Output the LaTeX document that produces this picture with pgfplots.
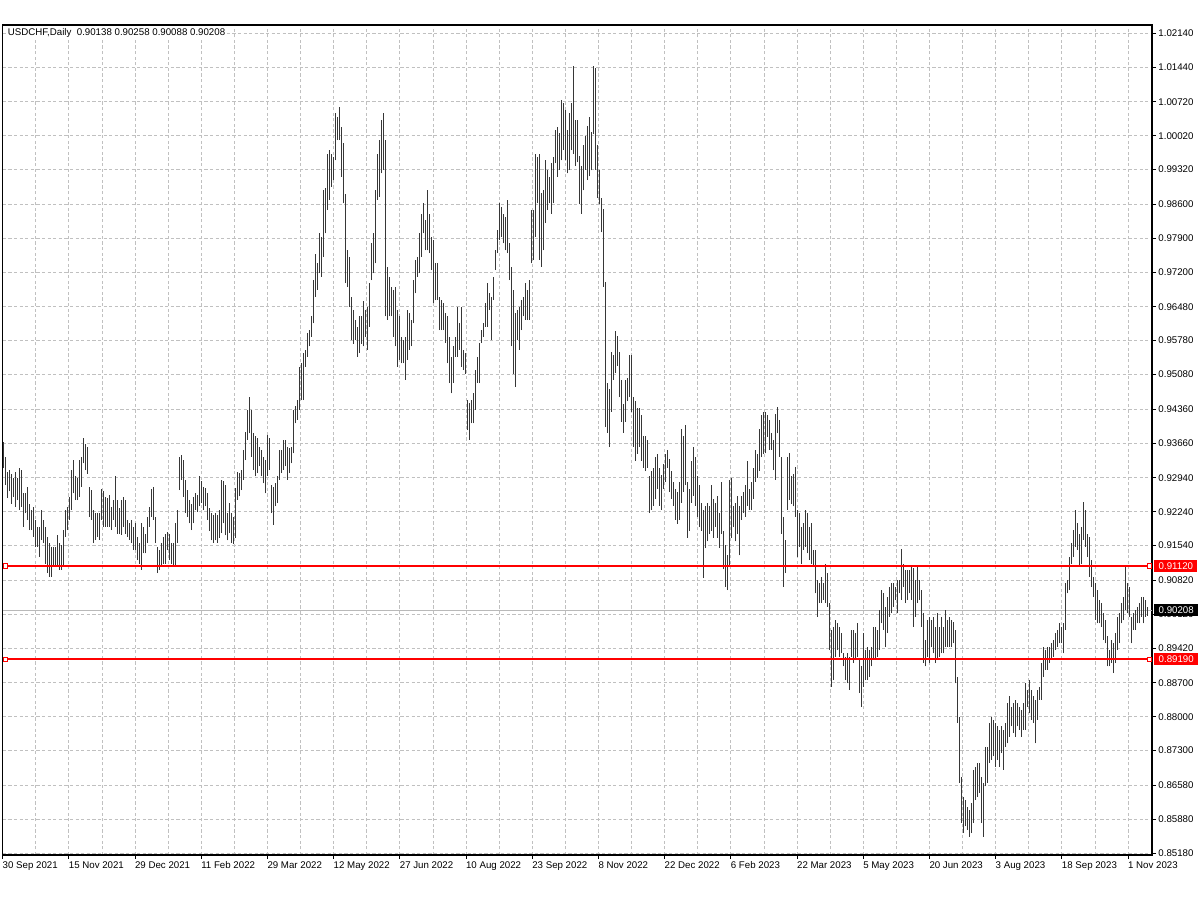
\documentclass[border=0pt]{standalone}
\usepackage{fontspec}
\setmainfont{Liberation Sans}
\usepackage{pgfplots}
\usepackage{pgfplotstable}
\pgfplotsset{compat=1.18}
\definecolor{gridc}{RGB}{192,192,192}
\definecolor{curc}{RGB}{185,185,185}
\definecolor{barc}{RGB}{55,55,55}
\definecolor{mtred}{RGB}{255,0,0}
\newcommand\mt{\fontsize{4.85bp}{5.8bp}\selectfont}
\pgfplotstableread{
i h l
0 0.9369 0.9314
1 0.9338 0.9279
2 0.9307 0.9252
3 0.9310 0.9266
4 0.9303 0.9241
5 0.9293 0.9255
6 0.9307 0.9234
7 0.9293 0.9248
8 0.9314 0.9228
9 0.9310 0.9234
10 0.9262 0.9193
11 0.9262 0.9221
12 0.9276 0.9207
13 0.9241 0.9186
14 0.9228 0.9186
15 0.9234 0.9172
16 0.9207 0.9152
17 0.9193 0.9152
18 0.9193 0.9131
19 0.9228 0.9166
20 0.9207 0.9159
21 0.9193 0.9117
22 0.9172 0.9097
23 0.9159 0.9090
24 0.9152 0.9090
25 0.9152 0.9110
26 0.9152 0.9110
27 0.9176 0.9110
28 0.9159 0.9104
29 0.9155 0.9104
30 0.9186 0.9110
31 0.9228 0.9172
32 0.9234 0.9186
33 0.9255 0.9207
34 0.9310 0.9228
35 0.9331 0.9262
36 0.9297 0.9248
37 0.9293 0.9248
38 0.9331 0.9255
39 0.9338 0.9276
40 0.9376 0.9324
41 0.9365 0.9310
42 0.9359 0.9303
43 0.9276 0.9214
44 0.9269 0.9207
45 0.9228 0.9159
46 0.9221 0.9166
47 0.9221 0.9172
48 0.9221 0.9166
49 0.9272 0.9207
50 0.9266 0.9193
51 0.9255 0.9193
52 0.9252 0.9193
53 0.9259 0.9193
54 0.9234 0.9186
55 0.9248 0.9207
56 0.9297 0.9193
57 0.9248 0.9179
58 0.9231 0.9179
59 0.9248 0.9176
60 0.9255 0.9193
61 0.9248 0.9179
62 0.9207 0.9172
63 0.9200 0.9166
64 0.9207 0.9159
65 0.9193 0.9145
66 0.9200 0.9145
67 0.9172 0.9124
68 0.9159 0.9117
69 0.9200 0.9104
70 0.9193 0.9138
71 0.9179 0.9138
72 0.9214 0.9159
73 0.9234 0.9193
74 0.9272 0.9214
75 0.9276 0.9207
76 0.9214 0.9159
77 0.9152 0.9097
78 0.9145 0.9104
79 0.9159 0.9110
80 0.9172 0.9117
81 0.9179 0.9117
82 0.9183 0.9145
83 0.9179 0.9124
84 0.9159 0.9117
85 0.9159 0.9110
86 0.9200 0.9110
87 0.9228 0.9159
88 0.9338 0.9269
89 0.9341 0.9290
90 0.9331 0.9255
91 0.9290 0.9221
92 0.9269 0.9214
93 0.9248 0.9200
94 0.9241 0.9186
95 0.9255 0.9200
96 0.9262 0.9228
97 0.9259 0.9224
98 0.9297 0.9235
99 0.9287 0.9242
100 0.9276 0.9228
101 0.9273 0.9235
102 0.9262 0.9207
103 0.9231 0.9185
104 0.9221 0.9165
105 0.9218 0.9160
106 0.9221 0.9165
107 0.9218 0.9160
108 0.9228 0.9170
109 0.9290 0.9180
110 0.9287 0.9200
111 0.9280 0.9175
112 0.9221 0.9165
113 0.9242 0.9180
114 0.9221 0.9160
115 0.9214 0.9158
116 0.9273 0.9170
117 0.9307 0.9249
118 0.9304 0.9256
119 0.9311 0.9269
120 0.9352 0.9290
121 0.9390 0.9331
122 0.9435 0.9373
123 0.9462 0.9386
124 0.9435 0.9338
125 0.9386 0.9311
126 0.9380 0.9297
127 0.9376 0.9304
128 0.9359 0.9318
129 0.9352 0.9297
130 0.9338 0.9283
131 0.9331 0.9262
132 0.9383 0.9297
133 0.9376 0.9311
134 0.9280 0.9221
135 0.9276 0.9197
136 0.9283 0.9235
137 0.9297 0.9242
138 0.9352 0.9290
139 0.9352 0.9304
140 0.9373 0.9311
141 0.9373 0.9318
142 0.9359 0.9290
143 0.9355 0.9304
144 0.9359 0.9324
145 0.9435 0.9345
146 0.9442 0.9407
147 0.9455 0.9414
148 0.9524 0.9435
149 0.9531 0.9455
150 0.9552 0.9455
151 0.9559 0.9524
152 0.9593 0.9545
153 0.9600 0.9566
154 0.9628 0.9586
155 0.9703 0.9614
156 0.9758 0.9669
157 0.9738 0.9683
158 0.9800 0.9717
159 0.9793 0.9710
160 0.9889 0.9752
161 0.9893 0.9800
162 0.9965 0.9848
163 0.9972 0.9869
164 0.9965 0.9896
165 0.9958 0.9910
166 1.0048 0.9951
167 1.0041 0.9993
168 1.0062 0.9993
169 1.0020 0.9917
170 0.9986 0.9862
171 0.9882 0.9697
172 0.9765 0.9690
173 0.9752 0.9648
174 0.9669 0.9579
175 0.9641 0.9572
176 0.9621 0.9579
177 0.9607 0.9545
178 0.9628 0.9552
179 0.9628 0.9572
180 0.9659 0.9566
181 0.9641 0.9586
182 0.9648 0.9559
183 0.9697 0.9607
184 0.9779 0.9703
185 0.9800 0.9717
186 0.9889 0.9738
187 0.9965 0.9869
188 0.9993 0.9876
189 1.0034 0.9924
190 1.0048 0.9931
191 0.9993 0.9628
192 0.9731 0.9621
193 0.9710 0.9628
194 0.9690 0.9628
195 0.9683 0.9586
196 0.9690 0.9566
197 0.9641 0.9524
198 0.9628 0.9538
199 0.9586 0.9531
200 0.9579 0.9531
201 0.9586 0.9497
202 0.9641 0.9538
203 0.9635 0.9559
204 0.9621 0.9566
205 0.9703 0.9614
206 0.9745 0.9676
207 0.9752 0.9710
208 0.9800 0.9717
209 0.9841 0.9752
210 0.9862 0.9800
211 0.9827 0.9765
212 0.9889 0.9765
213 0.9841 0.9759
214 0.9793 0.9724
215 0.9786 0.9655
216 0.9738 0.9662
217 0.9738 0.9662
218 0.9669 0.9600
219 0.9662 0.9600
220 0.9655 0.9600
221 0.9635 0.9573
222 0.9628 0.9531
223 0.9586 0.9490
224 0.9545 0.9469
225 0.9566 0.9490
226 0.9586 0.9545
227 0.9648 0.9545
228 0.9614 0.9559
229 0.9648 0.9524
230 0.9559 0.9517
231 0.9552 0.9510
232 0.9455 0.9393
233 0.9449 0.9373
234 0.9455 0.9407
235 0.9469 0.9407
236 0.9517 0.9435
237 0.9545 0.9490
238 0.9573 0.9490
239 0.9600 0.9573
240 0.9614 0.9586
241 0.9655 0.9607
242 0.9697 0.9607
243 0.9676 0.9641
244 0.9669 0.9579
245 0.9710 0.9662
246 0.9765 0.9724
247 0.9807 0.9759
248 0.9862 0.9786
249 0.9855 0.9793
250 0.9841 0.9779
251 0.9834 0.9765
252 0.9869 0.9759
253 0.9779 0.9703
254 0.9731 0.9566
255 0.9683 0.9510
256 0.9635 0.9483
257 0.9641 0.9579
258 0.9648 0.9559
259 0.9662 0.9600
260 0.9669 0.9628
261 0.9697 0.9621
262 0.9683 0.9621
263 0.9703 0.9621
264 0.9848 0.9738
265 0.9848 0.9745
266 0.9965 0.9793
267 0.9958 0.9862
268 0.9965 0.9745
269 0.9883 0.9731
270 0.9889 0.9765
271 0.9951 0.9821
272 0.9931 0.9848
273 0.9917 0.9862
274 0.9945 0.9841
275 0.9958 0.9862
276 1.0013 0.9945
277 1.0020 0.9917
278 1.0007 0.9931
279 1.0075 0.9951
280 1.0069 0.9972
281 1.0055 0.9951
282 1.0013 0.9924
283 1.0048 0.9931
284 1.0069 0.9972
285 1.0146 0.9965
286 1.0034 0.9939
287 1.0034 0.9947
288 0.9961 0.9860
289 0.9939 0.9841
290 0.9983 0.9889
291 1.0001 0.9932
292 1.0023 0.9910
293 1.0041 0.9918
294 1.0010 0.9930
295 1.0146 1.0005
296 1.0142 0.9932
297 0.9983 0.9874
298 0.9932 0.9860
299 0.9874 0.9802
300 0.9850 0.9690
301 0.9700 0.9399
302 0.9490 0.9388
303 0.9479 0.9359
304 0.9555 0.9431
305 0.9548 0.9497
306 0.9599 0.9511
307 0.9588 0.9526
308 0.9555 0.9461
309 0.9497 0.9410
310 0.9446 0.9388
311 0.9497 0.9410
312 0.9500 0.9453
313 0.9548 0.9461
314 0.9548 0.9431
315 0.9461 0.9359
316 0.9453 0.9330
317 0.9439 0.9344
318 0.9439 0.9359
319 0.9424 0.9330
320 0.9381 0.9315
321 0.9381 0.9308
322 0.9373 0.9315
323 0.9297 0.9221
324 0.9308 0.9228
325 0.9315 0.9236
326 0.9337 0.9250
327 0.9344 0.9272
328 0.9315 0.9236
329 0.9301 0.9228
330 0.9323 0.9272
331 0.9344 0.9286
332 0.9352 0.9315
333 0.9333 0.9265
334 0.9308 0.9250
335 0.9286 0.9236
336 0.9272 0.9207
337 0.9265 0.9199
338 0.9286 0.9207
339 0.9395 0.9243
340 0.9381 0.9265
341 0.9403 0.9279
342 0.9286 0.9170
343 0.9272 0.9185
344 0.9330 0.9243
345 0.9359 0.9257
346 0.9337 0.9236
347 0.9297 0.9214
348 0.9279 0.9192
349 0.9243 0.9185
350 0.9228 0.9087
351 0.9236 0.9149
352 0.9243 0.9163
353 0.9236 0.9178
354 0.9279 0.9185
355 0.9250 0.9170
356 0.9243 0.9192
357 0.9257 0.9170
358 0.9221 0.9149
359 0.9286 0.9178
360 0.9185 0.9105
361 0.9156 0.9069
362 0.9134 0.9062
363 0.9290 0.9112
364 0.9294 0.9170
365 0.9236 0.9192
366 0.9243 0.9163
367 0.9257 0.9178
368 0.9236 0.9134
369 0.9257 0.9207
370 0.9265 0.9221
371 0.9279 0.9214
372 0.9330 0.9236
373 0.9272 0.9228
374 0.9286 0.9228
375 0.9315 0.9250
376 0.9352 0.9286
377 0.9344 0.9294
378 0.9395 0.9308
379 0.9424 0.9337
380 0.9431 0.9344
381 0.9431 0.9345
382 0.9424 0.9379
383 0.9414 0.9352
384 0.9386 0.9352
385 0.9372 0.9310
386 0.9427 0.9290
387 0.9441 0.9386
388 0.9414 0.9338
389 0.9338 0.9179
390 0.9214 0.9069
391 0.9166 0.9097
392 0.9338 0.9228
393 0.9345 0.9248
394 0.9297 0.9241
395 0.9303 0.9235
396 0.9317 0.9214
397 0.9228 0.9131
398 0.9221 0.9152
399 0.9193 0.9117
400 0.9200 0.9145
401 0.9228 0.9152
402 0.9221 0.9138
403 0.9193 0.9124
404 0.9200 0.9117
405 0.9145 0.9110
406 0.9145 0.9055
407 0.9083 0.9007
408 0.9076 0.9035
409 0.9090 0.9035
410 0.9076 0.9042
411 0.9117 0.9035
412 0.9097 0.9028
413 0.9035 0.8938
414 0.8980 0.8862
415 0.8986 0.8876
416 0.9000 0.8924
417 0.8993 0.8938
418 0.8986 0.8924
419 0.8973 0.8931
420 0.8931 0.8904
421 0.8924 0.8876
422 0.8931 0.8869
423 0.8924 0.8856
424 0.8980 0.8924
425 0.8980 0.8911
426 0.8973 0.8918
427 0.8993 0.8924
428 0.8918 0.8849
429 0.8904 0.8821
430 0.8973 0.8862
431 0.8938 0.8876
432 0.8945 0.8876
433 0.8938 0.8883
434 0.8945 0.8904
435 0.8986 0.8918
436 0.8986 0.8918
437 0.8980 0.8924
438 0.9021 0.8938
439 0.9062 0.8993
440 0.9055 0.8980
441 0.9028 0.8945
442 0.9048 0.8973
443 0.9069 0.9007
444 0.9076 0.9014
445 0.9076 0.9028
446 0.9069 0.9042
447 0.9083 0.9014
448 0.9083 0.9055
449 0.9148 0.9042
450 0.9117 0.9069
451 0.9104 0.9035
452 0.9104 0.9042
453 0.9104 0.9055
454 0.9110 0.9042
455 0.9107 0.8986
456 0.9083 0.9007
457 0.9110 0.9035
458 0.9083 0.9042
459 0.9062 0.8986
460 0.9014 0.8911
461 0.8959 0.8904
462 0.9000 0.8924
463 0.9007 0.8911
464 0.9000 0.8945
465 0.9007 0.8931
466 0.8986 0.8911
467 0.9014 0.8918
468 0.8986 0.8924
469 0.9007 0.8931
470 0.8986 0.8931
471 0.9021 0.8945
472 0.9000 0.8945
473 0.9007 0.8945
474 0.9000 0.8945
475 0.8995 0.8952
476 0.8980 0.8869
477 0.8883 0.8787
478 0.8800 0.8663
479 0.8676 0.8580
480 0.8635 0.8559
481 0.8628 0.8573
482 0.8614 0.8566
483 0.8607 0.8552
484 0.8621 0.8559
485 0.8690 0.8580
486 0.8697 0.8628
487 0.8704 0.8635
488 0.8704 0.8642
489 0.8676 0.8580
490 0.8663 0.8552
491 0.8738 0.8656
492 0.8738 0.8663
493 0.8787 0.8704
494 0.8800 0.8711
495 0.8794 0.8718
496 0.8787 0.8697
497 0.8780 0.8711
498 0.8773 0.8697
499 0.8780 0.8725
500 0.8773 0.8690
501 0.8787 0.8738
502 0.8828 0.8745
503 0.8842 0.8759
504 0.8821 0.8780
505 0.8828 0.8766
506 0.8835 0.8759
507 0.8828 0.8780
508 0.8821 0.8773
509 0.8814 0.8759
510 0.8828 0.8773
511 0.8869 0.8773
512 0.8856 0.8821
513 0.8876 0.8807
514 0.8856 0.8794
515 0.8842 0.8787
516 0.8835 0.8745
517 0.8856 0.8794
518 0.8862 0.8835
519 0.8911 0.8835
520 0.8945 0.8883
521 0.8938 0.8897
522 0.8945 0.8897
523 0.8945 0.8911
524 0.8952 0.8918
525 0.8959 0.8924
526 0.8973 0.8938
527 0.8980 0.8945
528 0.8993 0.8952
529 0.8986 0.8952
530 0.8993 0.8931
531 0.9076 0.8980
532 0.9083 0.9055
533 0.9131 0.9062
534 0.9159 0.9117
535 0.9186 0.9131
536 0.9228 0.9152
537 0.9200 0.9145
538 0.9179 0.9110
539 0.9193 0.9117
540 0.9245 0.9166
541 0.9228 0.9152
542 0.9179 0.9131
543 0.9172 0.9090
544 0.9124 0.9069
545 0.9090 0.9048
546 0.9076 0.9000
547 0.9062 0.8993
548 0.9042 0.8993
549 0.9035 0.8986
550 0.9014 0.8959
551 0.9000 0.8952
552 0.8966 0.8904
553 0.8938 0.8904
554 0.8959 0.8911
555 0.8952 0.8890
556 0.8973 0.8911
557 0.9007 0.8938
558 0.9014 0.8952
559 0.9035 0.8993
560 0.9048 0.9000
561 0.9110 0.9021
562 0.9076 0.9014
563 0.9069 0.9007
564 0.9007 0.8952
565 0.9014 0.8980
566 0.9021 0.8980
567 0.9028 0.8993
568 0.9035 0.8993
569 0.9048 0.9007
570 0.9048 0.8993
571 0.9042 0.9007
572 0.9026 0.9009
}\bars
\begin{document}
\begin{tikzpicture}
\begin{axis}[
  name=main,
  scale only axis, width=574.65bp, height=415bp,
  xmin=-0.4, xmax=574.25, ymin=0.8514, ymax=1.0231,
  clip=false,
  axis line style={black, line width=0.6bp},
  tick align=outside,
  major tick length=2bp,
  minor tick length=0pt,
  tick style={black, line width=0.5bp},
  xtick pos=bottom, ytick pos=right, yticklabel pos=right,
  xtick={-0.4,32.7,65.8,98.9,132.0,165.1,198.2,231.3,264.4,297.5,330.6,363.7,396.8,429.9,463.0,496.1,529.2,562.3},
  xticklabels={30 Sep 2021,15 Nov 2021,29 Dec 2021,11 Feb 2022,29 Mar 2022,12 May 2022,27 Jun 2022,10 Aug 2022,23 Sep 2022,8 Nov 2022,22 Dec 2022,6 Feb 2023,22 Mar 2023,5 May 2023,20 Jun 2023,3 Aug 2023,18 Sep 2023,1 Nov 2023},
  minor xtick={16.15,49.25,82.35,115.45,148.55,181.65,214.75,247.85,280.95,314.05,347.15,380.25,413.35,446.45,479.55,512.65,545.75},
  ytick={0.8518,0.8588,0.8658,0.8730,0.8800,0.8870,0.8942,0.9012,0.9082,0.9154,0.9224,0.9294,0.9366,0.9436,0.9508,0.9578,0.9648,0.9720,0.9790,0.9860,0.9932,1.0002,1.0072,1.0144,1.0214},
  yticklabels={0.85180,0.85880,0.86580,0.87300,0.88000,0.88700,0.89420,0.90120,0.90820,0.91540,0.92240,0.92940,0.93660,0.94360,0.95080,0.95780,0.96480,0.97200,0.97900,0.98600,0.99320,1.00020,1.00720,1.01440,1.02140},
  grid=both,
  major grid style={gridc, dash pattern=on 1.6bp off 1.2bp, line width=0.5bp},
  minor grid style={gridc, dash pattern=on 1.6bp off 1.2bp, line width=0.5bp},
  ticklabel style={font=\mt, text=black},
  xticklabel style={anchor=north west, inner sep=0pt, xshift=-0.2bp, yshift=-1.2bp},
  yticklabel style={anchor=west, inner sep=0pt, xshift=1bp},
]
\addplot[draw=curc, color=curc, line width=0.5bp, forget plot] coordinates {(-0.4,0.90208) (574.25,0.90208)};
\addplot[draw=barc, color=barc, line width=0.85bp, quiver={u=0, v=\thisrow{h}-\thisrow{l}}] table[x=i, y=l] {\bars};
\addplot[draw=mtred, color=mtred, line width=0.7bp] coordinates {(-0.4,0.9112) (574.25,0.9112)};
\addplot[draw=mtred, color=mtred, line width=1bp] coordinates {(-0.4,0.8919) (574.25,0.8919)};
\addplot[only marks, mark=square*, mark size=1.1bp, mtred, mark options={draw=mtred, fill=white, line width=0.5bp}] coordinates {(0.9,0.9112) (573.1,0.9112) (0.9,0.8919) (573.1,0.8919)};
\node[anchor=west, fill=white, inner sep=0.4bp, font=\mt] at (axis cs:1.6,1.0214) {USDCHF,Daily\ \ 0.90138 0.90258 0.90088 0.90208};
\node[anchor=west, fill=mtred, text=white, font=\mt, inner xsep=2.2bp, inner ysep=0.6bp, minimum height=6bp] at (axis cs:575.2,0.9112) {0.91120};
\node[anchor=west, fill=mtred, text=white, font=\mt, inner xsep=2.2bp, inner ysep=0.6bp, minimum height=6bp] at (axis cs:575.2,0.8919) {0.89190};
\node[anchor=west, fill=black, text=white, font=\mt, inner xsep=2.2bp, inner ysep=0.6bp, minimum height=6bp] at (axis cs:575.2,0.90208) {0.90208};
\end{axis}
\pgfresetboundingbox
\path (main.south west) ++(-1.35bp,-22.5bp) rectangle ++(600bp,450bp);
\end{tikzpicture}
\end{document}
